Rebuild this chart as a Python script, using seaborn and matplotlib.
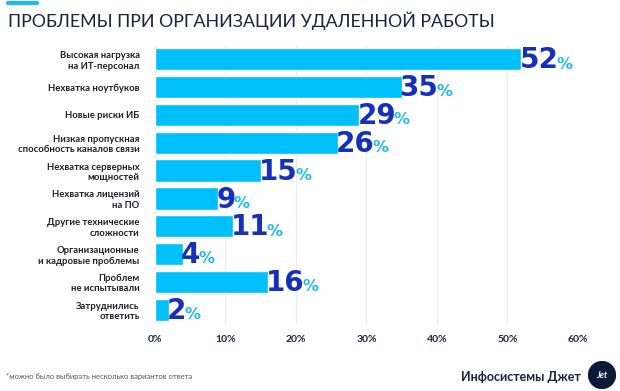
import matplotlib
matplotlib.use("Agg")
import matplotlib.pyplot as plt
import seaborn as sns
import pandas as pd
from matplotlib.patches import Circle

categories = [
    "Высокая нагрузка\nна ИТ-персонал",
    "Нехватка ноутбуков",
    "Новые риски ИБ",
    "Низкая пропускная\nспособность каналов связи",
    "Нехватка серверных\nмощностей",
    "Нехватка лицензий\nна ПО",
    "Другие технические\nсложности",
    "Организационные\nи кадровые проблемы",
    "Проблем\nне испытывали",
    "Затруднились\nответить",
]
values = [52, 35, 29, 26, 15, 9, 11, 4, 16, 2]
xticks = [0, 10, 20, 30, 40, 50, 60]

BAR = "#00c0fc"
NUM = "#1631b8"
PCT = "#1cb8f0"
NAVY = "#1a2340"

df = pd.DataFrame({"cat": categories, "val": values})

sns.set_style("white")
plt.rcParams["font.family"] = ["Lato", "DejaVu Sans"]

fig = plt.figure(figsize=(6.2, 3.91), dpi=100)
ax = fig.add_axes([0.25, 0.172, 0.682, 0.712])

sns.barplot(data=df, x="val", y="cat", color=BAR, width=0.8,
            saturation=1, ax=ax, zorder=2)

ax.set_xlim(0, 60)
ax.set_ylim(9.5, -0.5)
ax.set_xticks(xticks)
ax.set_xticklabels([f"{t}%" for t in xticks], fontsize=7.5,
                   fontweight="bold", color=NAVY)
ax.tick_params(axis="x", length=0, pad=8)
ax.tick_params(axis="y", length=0, pad=11)
for lbl in ax.get_yticklabels():
    lbl.set_fontsize(6.8)
    lbl.set_fontweight("bold")
    lbl.set_color("#1e1e24")
    lbl.set_multialignment("right")
ax.set_xlabel("")
ax.set_ylabel("")
for s in ax.spines.values():
    s.set_visible(False)
ax.grid(axis="x", color="#ececf0", linewidth=0.8, zorder=0)
ax.grid(axis="y", visible=False)

# подписи значений: крупное число + маленький знак процента
for i, v in enumerate(values):
    t = ax.text(v - 0.3, i + 0.04, str(v), fontsize=20, fontweight="bold",
                family="DejaVu Sans", color=NUM, va="center", ha="left",
                zorder=3)
    ax.annotate("%", xy=(1, 0.1), xycoords=t, fontsize=11.5,
                fontweight="bold", family="DejaVu Sans", color=PCT,
                va="bottom", ha="left", xytext=(-1.5, 0),
                textcoords="offset points", zorder=3)

fig.add_artist(plt.Line2D([8 / 620, 37 / 620], [0.992, 0.992],
                          color=PCT, linewidth=3))
fig.text(8 / 620, 1 - 21 / 391, "ПРОБЛЕМЫ ПРИ ОРГАНИЗАЦИИ УДАЛЕННОЙ РАБОТЫ",
         fontsize=12.8, color=NAVY, va="center", ha="left")

fig.text(6 / 620, 1 - 377 / 391,
         "*можно было выбирать несколько вариантов ответа",
         fontsize=5.5, color="#555560", va="center", ha="left")
fig.text(581 / 620, 1 - 377 / 391, "Инфосистемы Джет",
         fontsize=9, fontweight="bold", color=NAVY, va="center", ha="right")

logo = fig.add_axes([588 / 620, 1 - 391 / 391 + 0.005, 28 / 620, 28 / 391])
logo.set_xlim(0, 1)
logo.set_ylim(0, 1)
logo.set_aspect("equal")
logo.axis("off")
logo.add_patch(Circle((0.5, 0.5), 0.48, color="#0c1a3a"))
logo.text(0.5, 0.5, "Jet", color="white", fontsize=6.5, fontweight="bold",
          ha="center", va="center", style="italic")

fig.savefig("out.png", dpi=100)
